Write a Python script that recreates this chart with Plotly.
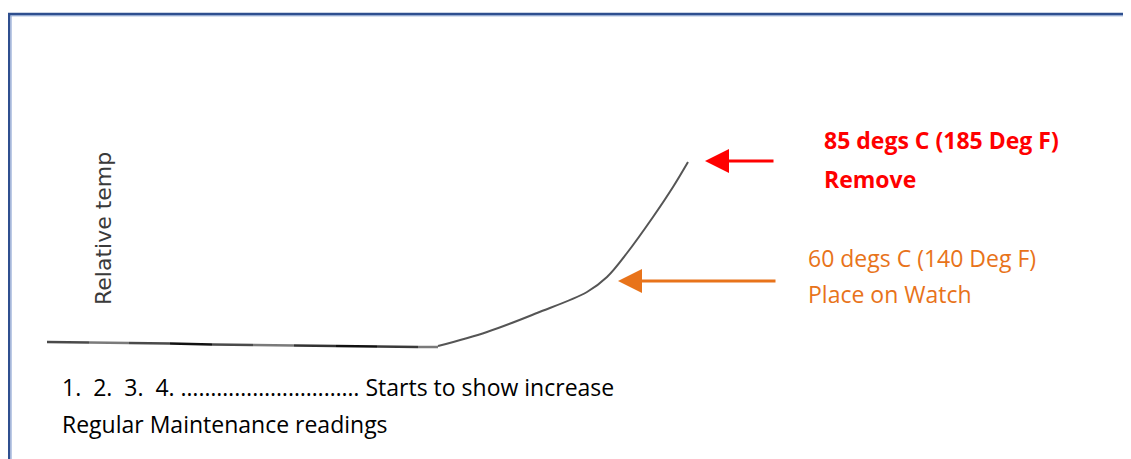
import plotly.graph_objects as go

# ---- data (schematic temperature trend, plotted in page units) ----
flat_x = [47, 89, 129, 170, 212, 253, 294, 336, 377, 418, 438]
flat_y = [342, 342.5, 343, 343.5, 344.5, 345, 345.5, 346, 346.5, 347, 347]
flat_colors = ["#4a4a4a", "#7a7a7a", "#4a4a4a", "#111111", "#4a4a4a",
               "#7a7a7a", "#333333", "#111111", "#3a3a3a", "#7a7a7a"]

rise_x = [438, 487, 537, 587, 607, 627, 653, 673, 688]
rise_y = [346, 332, 313, 292, 277, 253, 217, 187, 162]

red_lines = ["85 degs C (185 Deg F)", "Remove"]
orange_lines = ["60 degs C (140 Deg F)", "Place on Watch"]
bottom_lines = ["1.  2.  3.  4. " + "\u2026" * 10 + " Starts to show increase",
                "Regular Maintenance readings"]
y_label = "Relative temp"

RED = "#FF0000"
ORANGE = "#E8731A"
FONT = "Open Sans, Lato, sans-serif"

fig = go.Figure()

for i, c in enumerate(flat_colors):
    fig.add_trace(go.Scatter(x=flat_x[i:i + 2], y=flat_y[i:i + 2], mode="lines",
                             line=dict(color=c, width=2.5), hoverinfo="skip",
                             showlegend=False))

fig.add_trace(go.Scatter(x=rise_x, y=rise_y, mode="lines",
                         line=dict(color="#555555", width=2, shape="spline"),
                         hoverinfo="skip", showlegend=False))

ann = []
# arrows
ann.append(dict(x=705, y=161, ax=775, ay=161, xref="x", yref="y", axref="x", ayref="y",
                showarrow=True, arrowhead=2, arrowsize=1.6, arrowwidth=3,
                arrowcolor=RED, text=""))
ann.append(dict(x=618, y=281, ax=777, ay=281, xref="x", yref="y", axref="x", ayref="y",
                showarrow=True, arrowhead=2, arrowsize=1.6, arrowwidth=3,
                arrowcolor=ORANGE, text=""))

for t, yy in zip(red_lines, [140, 179]):
    ann.append(dict(x=822, y=yy, xref="x", yref="y", text="<b>%s</b>" % t,
                    showarrow=False, xanchor="left", yanchor="middle",
                    font=dict(family=FONT, size=23, color=RED)))
for t, yy in zip(orange_lines, [258, 294]):
    ann.append(dict(x=806, y=yy, xref="x", yref="y", text=t,
                    showarrow=False, xanchor="left", yanchor="middle",
                    font=dict(family=FONT, size=23, color=ORANGE)))
for t, yy in zip(bottom_lines, [387, 424]):
    ann.append(dict(x=60, y=yy, xref="x", yref="y", text=t,
                    showarrow=False, xanchor="left", yanchor="middle",
                    font=dict(family=FONT, size=23, color="#000000")))
ann.append(dict(x=103, y=229, xref="x", yref="y", text=y_label, textangle=-90,
                showarrow=False, xanchor="center", yanchor="middle",
                font=dict(family="DejaVu Sans, sans-serif", size=22, color="#3a3a3a")))

shapes = [
    dict(type="line", xref="x", yref="y", x0=8, y0=14, x1=1131, y1=14,
         line=dict(color="#2F4F8F", width=2.5)),
    dict(type="line", xref="x", yref="y", x0=8, y0=15.8, x1=1131, y1=15.8,
         line=dict(color="#7F9ACB", width=1)),
    dict(type="line", xref="x", yref="y", x0=9, y0=13, x1=9, y1=459,
         line=dict(color="#2F4F8F", width=2.5)),
    dict(type="line", xref="x", yref="y", x0=11, y0=16, x1=11, y1=459,
         line=dict(color="#8FA6D3", width=1.2)),
]

# page body has an 8px margin; the figure covers page pixels 8..1131 x 8..459
fig.update_layout(
    width=1123, height=451,
    margin=dict(l=0, r=0, t=0, b=0),
    paper_bgcolor="white", plot_bgcolor="white",
    xaxis=dict(range=[8, 1131], visible=False, fixedrange=True),
    yaxis=dict(range=[459, 8], visible=False, fixedrange=True),
    annotations=ann, shapes=shapes, showlegend=False,
)

fig.write_html("out.html")
